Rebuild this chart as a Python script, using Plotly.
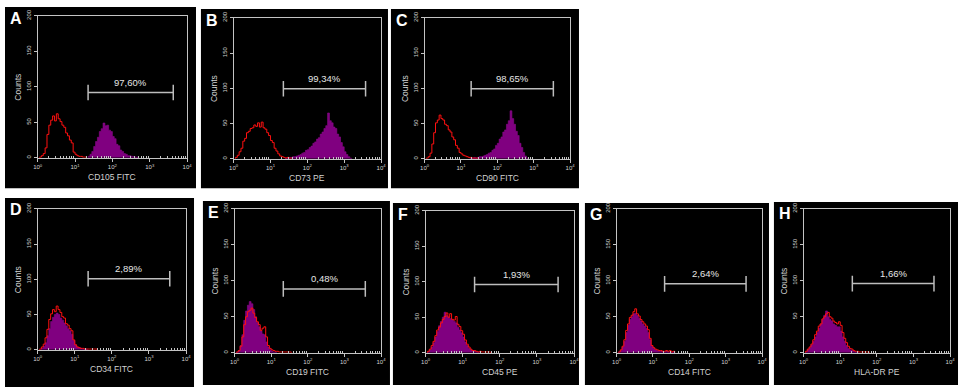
import plotly.graph_objects as go

W, H = 964, 388
BIN = 0.05  # histogram channel width in log10 units

LETTERS = ["A", "B", "C", "D", "E", "F", "G", "H"]
MARKERS = ["CD105 FITC", "CD73 PE", "CD90 FITC", "CD34 FITC", "CD19 FITC", "CD45 PE", "CD14 FITC", "HLA-DR PE"]
PCT_LABELS = ["97,60%", "99,34%", "98,65%", "2,89%", "0,48%", "1,93%", "2,64%", "1,66%"]
GATE_LO = [1.35, 1.35, 1.28, 1.36, 1.33, 1.32, 1.32, 1.33]   # log10 of gate start
GATE_HI = [3.63, 3.58, 3.54, 3.56, 3.57, 3.57, 3.56, 3.56]   # log10 of gate end
GATE_Y = [92, 99.5, 99.5, 100.7, 88.6, 96, 95.7, 96]
Y_TICKS = [0, 50, 100, 150, 200]
X_TICKS = [1, 10, 100, 1000, 10000]
X_TICK_TEXT = ["10<sup>0</sup>", "10<sup>1</sup>", "10<sup>2</sup>", "10<sup>3</sup>", "10<sup>4</sup>"]

# isotype control (red outline) and marker (purple filled) histograms
A_RED_START = 0.05
A_RED = [1, 3, 6, 14, 33, 46, 53, 59, 52, 62, 55, 51, 46, 43, 35, 31, 25, 21, 8, 5, 3, 2, 2, 1, 1]
A_PUR_START = 1.35
A_PUR = [2, 5, 9, 16, 23, 29, 37, 41, 49, 45, 46, 39, 37, 30, 27, 19, 17, 11, 9, 6, 5, 3, 3, 2, 2, 1, 1]

B_RED_START = 0.05
B_RED = [2, 5, 10, 15, 25, 29, 37, 39, 43, 44, 48, 46, 51, 45, 52, 44, 42, 37, 33, 26, 23, 15, 11, 7, 4, 3, 2, 1, 2, 1, 1]
B_PUR_START = 1.40
B_PUR = [1, 1, 2, 2, 3, 3, 4, 5, 6, 8, 9, 12, 13, 16, 18, 22, 24, 28, 30, 35, 38, 43, 47, 65, 54, 51, 45, 43, 35, 31, 23, 17, 10, 6, 3, 1]

C_RED_START = 0.05
C_RED = [1, 3, 8, 21, 37, 51, 55, 62, 57, 55, 49, 47, 41, 38, 31, 27, 19, 15, 9, 7, 5, 4, 3, 2, 2, 1, 1, 1, 1]
C_PUR_START = 1.25
C_PUR = [1, 1, 2, 1, 2, 3, 3, 4, 5, 6, 8, 9, 12, 14, 19, 22, 28, 31, 38, 41, 49, 54, 68, 57, 49, 39, 33, 22, 16, 9, 4, 1]

D_RED_START = 0.05
D_RED = [1, 4, 8, 17, 29, 43, 51, 57, 54, 62, 57, 53, 47, 45, 37, 35, 30, 27, 14, 7, 4, 3, 2, 2, 1, 1, 1, 1, 1, 1, 1]
D_PUR_START = 0.05
D_PUR = [0, 2, 5, 10, 20, 30, 40, 46, 50, 52, 50, 45, 42, 38, 34, 30, 27, 22, 13, 7, 4, 3, 2, 1, 1, 1]

E_RED_START = 0.05
E_RED = [1, 3, 9, 22, 39, 50, 57, 59, 62, 55, 49, 43, 39, 31, 34, 36, 22, 10, 6, 4, 3, 2, 2, 1, 1, 1, 1, 1, 1, 1]
E_PUR_START = 0.05
E_PUR = [1, 3, 10, 25, 45, 58, 66, 71, 68, 60, 50, 42, 36, 30, 26, 25, 15, 8, 4, 2, 1, 1]

F_RED_START = 0.05
F_RED = [2, 5, 10, 16, 24, 32, 36, 42, 47, 51, 56, 50, 55, 47, 46, 51, 40, 37, 31, 26, 18, 12, 8, 5, 3, 3, 2, 1, 2, 1, 1, 1, 1, 1]
F_PUR_START = 0.05
F_PUR = [1, 4, 8, 14, 22, 30, 38, 44, 50, 57, 52, 50, 48, 46, 44, 42, 36, 32, 28, 22, 15, 10, 6, 4, 3, 2, 1, 1]

G_RED_START = 0.05
G_RED = [1, 4, 9, 18, 31, 40, 49, 52, 57, 61, 54, 51, 46, 43, 40, 37, 32, 20, 10, 7, 5, 4, 3, 3, 2, 2, 3, 2, 3, 1, 2]
G_PUR_START = 0.05
G_PUR = [1, 3, 8, 16, 28, 38, 46, 50, 54, 55, 52, 48, 44, 40, 37, 34, 28, 18, 9, 6, 4, 3, 2, 2, 2, 1, 2, 1, 1, 1, 1]

H_RED_START = 0.05
H_RED = [2, 5, 8, 12, 18, 25, 30, 37, 40, 47, 50, 54, 56, 50, 48, 44, 42, 40, 43, 38, 28, 20, 14, 9, 6, 5, 3, 2, 2, 1, 1, 1, 1, 1, 1]
H_PUR_START = 0.05
H_PUR = [1, 4, 7, 11, 16, 22, 28, 34, 40, 46, 52, 58, 50, 46, 44, 40, 38, 36, 36, 30, 22, 16, 10, 6, 4, 3, 2, 1, 1]

RED = [(A_RED_START, A_RED), (B_RED_START, B_RED), (C_RED_START, C_RED), (D_RED_START, D_RED),
       (E_RED_START, E_RED), (F_RED_START, F_RED), (G_RED_START, G_RED), (H_RED_START, H_RED)]
PUR = [(A_PUR_START, A_PUR), (B_PUR_START, B_PUR), (C_PUR_START, C_PUR), (D_PUR_START, D_PUR),
       (E_PUR_START, E_PUR), (F_PUR_START, F_PUR), (G_PUR_START, G_PUR), (H_PUR_START, H_PUR)]

# layout geometry in pixels: black panel box and plot frame (left, top, right, bottom)
BOXES = [(0, 0, 193, 185), (198, 2, 387, 185), (390, 2, 580, 185),
         (0, 195, 191, 388), (200, 198, 389, 386), (392, 200, 580, 386),
         (586, 200, 772, 386), (777, 199, 963, 386)]
FRAMES = [(33, 9, 184, 154), (231, 11, 380, 155), (424, 11, 571, 155),
          (33, 206, 183, 350), (232, 206, 380, 353), (425, 208, 575, 353),
          (618, 206, 765, 353), (807, 206, 955, 353)]

FG = "#d2d2d2"
FONT = "Liberation Sans, Arial, sans-serif"


def px_x(v):
    return v / W


def px_y(v):
    return 1 - v / H


def step_xy(start, vals):
    xs = [10 ** start]
    ys = [0]
    for i, v in enumerate(vals):
        xs.append(10 ** (start + i * BIN))
        ys.append(v)
    xs.append(10 ** (start + len(vals) * BIN))
    ys.append(0)
    return xs, ys


fig = go.Figure()
shapes = []
annotations = []
minor_vals = [m * 10 ** k for k in range(4) for m in range(2, 10)]

for k in range(8):
    ax = "" if k == 0 else str(k + 1)
    bl, bt, br, bb = BOXES[k]
    fl, ft, fr, fb = FRAMES[k]
    shapes.append(dict(type="rect", xref="paper", yref="paper",
                       x0=px_x(bl), x1=px_x(br), y0=px_y(bb), y1=px_y(bt),
                       fillcolor="black", line=dict(width=0), layer="below"))

    # histograms
    xs, ys = step_xy(*PUR[k])
    fig.add_trace(go.Scatter(x=xs, y=ys, mode="lines", line=dict(color="#8a0a8a", width=0.6, shape="hv"),
                             fill="tozeroy", fillcolor="#800080", hoverinfo="skip",
                             xaxis="x" + ax, yaxis="y" + ax, showlegend=False))
    xs, ys = step_xy(*RED[k])
    fig.add_trace(go.Scatter(x=xs, y=ys, mode="lines", line=dict(color="#ff1010", width=1, shape="hv"),
                             hoverinfo="skip", xaxis="x" + ax, yaxis="y" + ax, showlegend=False))

    # gate bar
    lo, hi, gy = 10 ** GATE_LO[k], 10 ** GATE_HI[k], GATE_Y[k]
    fig.add_trace(go.Scatter(x=[lo, lo, lo, hi, hi, hi], y=[gy + 11, gy - 11, gy, gy, gy + 11, gy - 11],
                             mode="lines", line=dict(color="#bdbdbd", width=1.5),
                             hoverinfo="skip", xaxis="x" + ax, yaxis="y" + ax, showlegend=False))
    annotations.append(dict(x=(GATE_LO[k] + GATE_HI[k]) / 2, y=gy + 4, xref="x" + ax, yref="y" + ax,
                            text=PCT_LABELS[k], showarrow=False, xanchor="center", yanchor="bottom",
                            font=dict(size=9.5, color="#e6e6e6", family=FONT)))

    axis_common = dict(showline=True, mirror=True, linecolor="#c4c4c4", linewidth=1,
                       showgrid=False, zeroline=False, ticks="outside", ticklen=3,
                       tickcolor="#c4c4c4", tickfont=dict(size=6, color=FG, family=FONT))
    fig.layout["xaxis" + ax] = dict(axis_common, type="log", range=[0, 4],
                                    domain=[px_x(fl), px_x(fr)], anchor="y" + ax,
                                    tickmode="array", tickvals=X_TICKS, ticktext=X_TICK_TEXT,
                                    minor=dict(tickmode="array", tickvals=minor_vals, ticks="inside",
                                               ticklen=2, tickcolor="#c4c4c4"))
    fig.layout["yaxis" + ax] = dict(axis_common, range=[0, 200], domain=[px_y(fb), px_y(ft)],
                                    anchor="x" + ax, tickmode="array", tickvals=Y_TICKS,
                                    tickangle=-90)

    # panel letter, axis titles
    annotations.append(dict(x=px_x(bl + 3), y=px_y(bt + 1), xref="paper", yref="paper",
                            text="<b>" + LETTERS[k] + "</b>", showarrow=False,
                            xanchor="left", yanchor="top",
                            font=dict(size=16, color="white", family=FONT)))
    annotations.append(dict(x=px_x(fl - 20), y=px_y((ft + fb) / 2), xref="paper", yref="paper",
                            text="Counts", showarrow=False, textangle=-90,
                            xanchor="center", yanchor="middle",
                            font=dict(size=8.5, color=FG, family=FONT)))
    annotations.append(dict(x=px_x((fl + fr) / 2), y=px_y(fb + 20), xref="paper", yref="paper",
                            text=MARKERS[k], showarrow=False,
                            xanchor="center", yanchor="middle",
                            font=dict(size=8.5, color=FG, family=FONT)))

fig.update_layout(width=W, height=H, margin=dict(l=0, r=0, t=0, b=0),
                  paper_bgcolor="white", plot_bgcolor="black",
                  shapes=shapes, annotations=annotations, showlegend=False,
                  font=dict(family=FONT))

fig.write_html("out.html", config={"displayModeBar": False},
               post_script="document.body.style.margin='0';document.body.style.padding='0';")
